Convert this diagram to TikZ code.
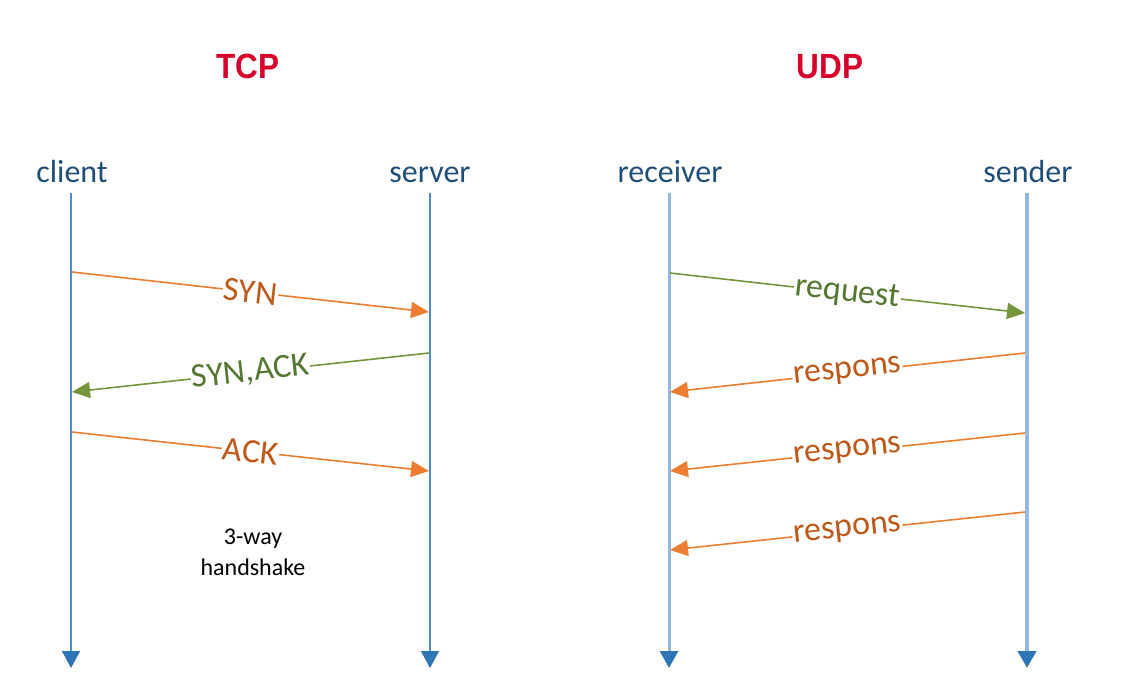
\documentclass[tikz,border=0pt]{standalone}
\usepackage{fontspec}
\setmainfont{Carlito}
\newfontfamily\titlefont[FakeStretch=0.9]{Liberation Sans Bold}
\usetikzlibrary{arrows.meta}
\definecolor{tred}{RGB}{214,0,42}
\definecolor{lblue}{RGB}{31,78,121}
\definecolor{lineblue}{RGB}{80,140,205}
\definecolor{paleblue}{RGB}{150,184,222}
\definecolor{tipblue}{RGB}{46,117,182}
\definecolor{morange}{RGB}{237,125,49}
\definecolor{torange}{RGB}{190,90,25}
\definecolor{mgreen}{RGB}{118,150,60}
\definecolor{tgreen}{RGB}{84,120,50}
\tikzset{
  titletext/.style={font=\titlefont\fontsize{35}{40}\selectfont, text=tred, inner sep=0pt},
  lifetext/.style={font=\fontsize{32}{36}\selectfont, text=lblue, inner sep=0pt, anchor=base},
  lifeline/.style={draw=lineblue, line width=1.6pt, -{Triangle[length=17pt,width=18pt,color=tipblue]}},
  palelife/.style={draw=paleblue, line width=4pt, -{Triangle[length=17pt,width=18pt,color=tipblue]}},
  msgorange/.style={draw=morange, line width=1.6pt, -{Triangle[length=18pt,width=16pt]}},
  msggreen/.style={draw=mgreen, line width=1.6pt, -{Triangle[length=18pt,width=16pt]}},
  lblorange/.style={sloped, fill=white, inner sep=1pt, text=torange, font=\fontsize{34}{38}\selectfont},
  lblgreen/.style={sloped, fill=white, inner sep=1pt, text=tgreen, font=\fontsize{34}{38}\selectfont},
}
\begin{document}
\begin{tikzpicture}[x=1pt,y=-1pt]
\useasboundingbox (0,0) rectangle (1129,700);
% titles
\node[titletext] (tcp) at (248,66.5) {TCP};
\node[titletext] (udp) at (830,66.5) {UDP};
% lifeline labels
\node[lifetext] (client) at (72,183) {client};
\node[lifetext] (server) at (430,183) {server};
\node[lifetext] (receiver) at (670,183) {receiver};
\node[lifetext] (sender) at (1028,183) {sender};
% lifelines
\coordinate (ctop) at (71,193);   \coordinate (cbot) at (71,668);
\coordinate (stop) at (430,193);  \coordinate (sbot) at (430,668);
\coordinate (rtop) at (669,193);  \coordinate (rbot) at (669,668);
\coordinate (dtop) at (1027,193); \coordinate (dbot) at (1027,668);
\draw[lifeline] (ctop) -- (cbot);
\draw[lifeline] (stop) -- (sbot);
\draw[lifeline, draw=paleblue, line width=3pt] (rtop) -- (rbot);
\draw[palelife] (dtop) -- (dbot);
% TCP messages
\coordinate (c1) at (72,272);  \coordinate (s1) at (429,312);
\coordinate (s2) at (429,353); \coordinate (c2) at (72,392);
\coordinate (c3) at (72,432);  \coordinate (s3) at (429,471);
\draw[msgorange] (c1) -- node[lblorange] {SYN} (s1);
\draw[msggreen] (s2) -- node[lblgreen, anchor=center] {SYN,ACK} (c2);
\draw[msgorange] (c3) -- node[lblorange] {ACK} (s3);
% UDP messages
\coordinate (r1) at (670,273);  \coordinate (d1) at (1025,313);
\coordinate (d2) at (1025,353); \coordinate (r2) at (670,392);
\coordinate (d3) at (1025,433); \coordinate (r3) at (670,471);
\coordinate (d4) at (1025,512); \coordinate (r4) at (670,550);
\draw[msggreen] (r1) -- node[lblgreen] {request} (d1);
\draw[msgorange] (d2) -- node[lblorange] {respons} (r2);
\draw[msgorange] (d3) -- node[lblorange] {respons} (r3);
\draw[msgorange] (d4) -- node[lblorange] {respons} (r4);
% note
\node[inner sep=0pt, anchor=north, align=center, font=\fontsize{24}{31}\selectfont] (hs) at (253,529) {3-way\\handshake};
\end{tikzpicture}
\end{document}
